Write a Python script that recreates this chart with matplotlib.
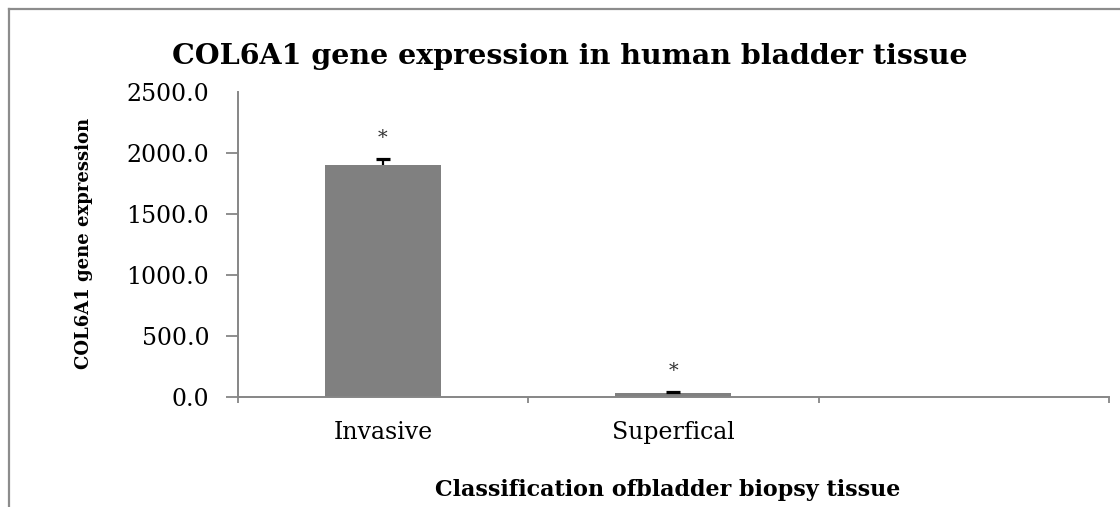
import matplotlib
matplotlib.use("Agg")
import matplotlib.pyplot as plt
from matplotlib.lines import Line2D
from matplotlib.ticker import FormatStrFormatter
import numpy as np

# データ
categories = ["Invasive", "Superfical", ""]
means = [1906, 33]
errors = [45, 14]
star_labels = ["*", "*"]
y_ticks = [0, 500, 1000, 1500, 2000, 2500]

W, H = 1120, 507
fig = plt.figure(figsize=(W / 100, H / 100), dpi=100)
fig.patch.set_facecolor("white")

# 軸の位置（ピクセルから換算）
left, right = 237.7 / W, 1109 / W
bottom, top = 1 - 397.3 / H, 1 - 92.3 / H
ax = fig.add_axes([left, bottom, right - left, top - bottom])

axis_color = "#868686"
serif = ["DejaVu Serif"]

x = np.arange(len(means))
tops = np.array(means) + np.array(errors)
ax.bar(x, means, width=0.40, color="#808080", zorder=2)
# 上側のみの誤差棒（T字）
ax.vlines(x, means, tops, color="black", linewidth=1.6, zorder=3)
ax.plot(x, tops, linestyle="none", marker="_", markersize=9.5,
        markeredgewidth=2.3, color="black", zorder=3)

# 有意差の星印
for xi, t, s in zip(x, tops, star_labels):
    ax.annotate(s, xy=(xi, t), xytext=(0, 15), textcoords="offset points",
                ha="center", va="center", fontsize=14, color="#333333",
                family=serif)

ax.set_xlim(-0.5, len(categories) - 0.5)
ax.set_ylim(0, 2500)

# 目盛り（カテゴリ境界に主目盛り、ラベルは中央）
ax.set_xticks(np.arange(len(categories) + 1) - 0.5)
ax.set_xticklabels([])
ax.set_xticks(np.arange(len(categories)), minor=True)
ax.set_xticklabels(categories, minor=True, family=serif, fontsize=17)
ax.tick_params(axis="x", which="major", length=4.2, width=1.3, color=axis_color, direction="out")
ax.tick_params(axis="x", which="minor", length=0, pad=17)

ax.set_yticks(y_ticks)
ax.yaxis.set_major_formatter(FormatStrFormatter("%.1f"))
for lbl in ax.get_yticklabels():
    lbl.set_family(serif)
    lbl.set_fontsize(17)
ax.tick_params(axis="y", length=8.4, width=1.3, color=axis_color, pad=12)
# 2500 の目盛り線は描かない
ax.yaxis.get_major_ticks()[-1].tick1line.set_visible(False)

for side in ["top", "right"]:
    ax.spines[side].set_visible(False)
for side in ["left", "bottom"]:
    ax.spines[side].set_color(axis_color)
    ax.spines[side].set_linewidth(1.4)

# タイトル・軸ラベル
fig.text(570 / W, 1 - 57 / H, "COL6A1 gene expression in human bladder tissue",
         ha="center", va="center", fontsize=20.5, fontweight="bold", family=serif)
fig.text(84 / W, 1 - 243 / H, "COL6A1 gene expression", rotation=90,
         ha="center", va="center", fontsize=13, fontweight="bold", family=serif)
fig.text(668 / W, 1 - 490 / H, "Classification ofbladder biopsy tissue",
         ha="center", va="center", fontsize=16, fontweight="bold", family=serif)

# 外枠（上と左のみ見えている）
frame_color = "#8c8c8c"
fig.add_artist(Line2D([9 / W, 1.0], [1 - 9 / H, 1 - 9 / H], transform=fig.transFigure,
                      color=frame_color, linewidth=1.6))
fig.add_artist(Line2D([9 / W, 9 / W], [1 - 9 / H, 0.0], transform=fig.transFigure,
                      color=frame_color, linewidth=1.6))

fig.savefig("out.png", dpi=100)
